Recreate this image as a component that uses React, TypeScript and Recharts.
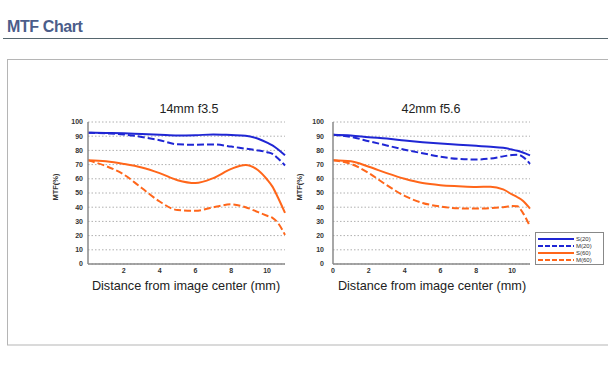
import React from "react";
import { LineChart, Line, XAxis, YAxis, CartesianGrid } from "recharts";

// distance from image centre (mm)
const xs = [0, 1, 2, 3, 4, 5, 6, 7, 8, 8.8, 9.5, 10, 10.3, 10.6, 11];

const seriesNames = ["S(20)", "M(20)", "S(60)", "M(60)"];

// 14mm f3.5
const wideS20 = [92.5, 92.3, 92, 91.5, 91, 90.5, 90.7, 91.2, 90.8, 90.4, 88.2, 85.5, 83.5, 80.8, 76.5];
const wideM20 = [92.5, 92, 91.2, 89.5, 87.2, 84.3, 84, 84.2, 82.7, 81.2, 80, 78.7, 77.5, 74.5, 69.4];
const wideS60 = [73, 72.3, 70.5, 68, 64, 59, 57, 60.5, 67, 69.8, 66, 59.5, 54.5, 47, 36];
const wideM60 = [73, 69, 63, 53.5, 44, 38, 37.5, 40, 42, 40, 36.5, 34, 32.5, 29, 20.5];

// 42mm f5.6
const teleS20 = [91, 90.5, 89.3, 88.3, 87, 85.8, 84.8, 84, 83.2, 82.6, 81.8, 80.6, 79.7, 78.5, 76.5];
const teleM20 = [91, 89.5, 86.5, 83.5, 80.5, 78, 75.5, 74, 73.6, 74.3, 75.8, 76.8, 77, 75.5, 70.5];
const teleS60 = [73, 72.3, 68.5, 64, 60, 57, 55.5, 54.8, 54.3, 54.4, 52.5, 49, 47, 44.5, 39];
const teleM60 = [73, 70.5, 64, 55.5, 48, 43, 40.5, 39.2, 39, 39.3, 40, 40.8, 40.6, 36, 26.5];

const chartTitles = ["14mm f3.5", "42mm f5.6"];
const xTicksWide = [2, 4, 6, 8, 10];
const xTicksTele = [0, 2, 4, 6, 8, 10];
const yTicks = [0, 10, 20, 30, 40, 50, 60, 70, 80, 90, 100];
const xAxisTitle = "Distance from image center (mm)";
const yAxisTitle = "MTF(%)";
const pageTitle = "MTF Chart";

const BLUE = "#1f26d4";
const ORANGE = "#ff661a";
const FONT = "'Liberation Sans', Arial, sans-serif";

const seriesStyle = [
  { key: "s20", color: BLUE, dash: undefined },
  { key: "m20", color: BLUE, dash: "7 3" },
  { key: "s60", color: ORANGE, dash: undefined },
  { key: "m60", color: ORANGE, dash: "7 3" },
];

const build = (a: number[], b: number[], c: number[], d: number[]) =>
  xs.map((x, i) => ({ x, s20: a[i], m20: b[i], s60: c[i], m60: d[i] }));

const wideData = build(wideS20, wideM20, wideS60, wideM60);
const teleData = build(teleS20, teleM20, teleS60, teleM60);

const tickStyle = { fontSize: 7, fontWeight: 700, fill: "#333", fontFamily: FONT };

function Panel({ data, xTicks, yMargin }: { data: any[]; xTicks: number[]; yMargin: number }) {
  return (
    <LineChart width={260} height={205} data={data} margin={{ top: 27, right: 15, bottom: 16, left: 0 }}>
      <CartesianGrid vertical={false} stroke="#b0b0b0" strokeDasharray="1.5 2" />
      <XAxis
        dataKey="x"
        type="number"
        domain={[0, 11]}
        ticks={xTicks}
        interval={0}
        height={20}
        tickSize={0}
        tickMargin={4}
        axisLine={{ stroke: "#8a8a8a", strokeWidth: 1.5 }}
        tick={tickStyle}
      />
      <XAxis xAxisId="top" orientation="top" type="number" domain={[0, 11]} height={0} tick={false} tickLine={false} axisLine={{ stroke: "#8a8a8a", strokeWidth: 1.5 }} />
      <YAxis
        type="number"
        domain={[0, 100]}
        ticks={yTicks}
        interval={0}
        width={48}
        tickSize={0}
        tickMargin={yMargin}
        axisLine={{ stroke: "#8a8a8a", strokeWidth: 1.5 }}
        tick={tickStyle}
      />
      <YAxis yAxisId="r" orientation="right" type="number" domain={[0, 100]} width={0} tick={false} tickLine={false} axisLine={{ stroke: "#8a8a8a", strokeWidth: 1.5 }} />
      {seriesStyle.map((s) => (
        <Line
          key={s.key}
          dataKey={s.key}
          type="monotone"
          stroke={s.color}
          strokeWidth={2}
          strokeDasharray={s.dash}
          dot={false}
          activeDot={false}
          isAnimationActive={false}
        />
      ))}
    </LineChart>
  );
}

export default function App() {
  return (
    <div style={{ position: "fixed", left: 0, top: 0, width: 608, height: 366, background: "#fff", fontFamily: FONT, overflow: "hidden" }}>
      <svg width={608} height={366} style={{ position: "absolute", left: 0, top: 0 }}>
        <text x={7} y={32} fontSize={16} fontWeight={700} fill="#4b5d8a" letterSpacing={-0.4} fontFamily={FONT}>
          {pageTitle}
        </text>
        <line x1={3} x2={608} y1={38.5} y2={38.5} stroke="#56666e" strokeWidth={1.2} />
        <rect x={7.5} y={59.5} width={640} height={285.5} fill="none" stroke="#b5b5b5" strokeWidth={1} />
        <text x={189} y={113} textAnchor="middle" fontSize={12.5} fill="#222" fontFamily={FONT}>{chartTitles[0]}</text>
        <text x={431} y={113} textAnchor="middle" fontSize={12.5} fill="#222" fontFamily={FONT}>{chartTitles[1]}</text>
        <text x={186} y={290} textAnchor="middle" fontSize={12.7} fill="#222" fontFamily={FONT}>{xAxisTitle}</text>
        <text x={432} y={290} textAnchor="middle" fontSize={12.7} fill="#222" fontFamily={FONT}>{xAxisTitle}</text>
        <text x={55} y={187} textAnchor="middle" dominantBaseline="central" fontSize={7.5} fontWeight={700} fill="#333" fontFamily={FONT} transform="rotate(-90 55 187)">{yAxisTitle}</text>
        <text x={299} y={187} textAnchor="middle" dominantBaseline="central" fontSize={7.5} fontWeight={700} fill="#333" fontFamily={FONT} transform="rotate(-90 299 187)">{yAxisTitle}</text>
      </svg>
      <div style={{ position: "absolute", left: 40, top: 95 }}>
        <Panel data={wideData} xTicks={xTicksWide} yMargin={5} />
      </div>
      <div style={{ position: "absolute", left: 285, top: 95 }}>
        <Panel data={teleData} xTicks={xTicksTele} yMargin={9} />
      </div>
      <svg width={70} height={34} style={{ position: "absolute", left: 535, top: 232 }}>
        <rect x={0.5} y={0.5} width={68} height={32} fill="#fff" stroke="#888" strokeWidth={1} />
        {seriesStyle.map((s, i) => (
          <g key={s.key}>
            <line x1={3} x2={39} y1={7 + i * 7} y2={7 + i * 7} stroke={s.color} strokeWidth={2} strokeDasharray={s.dash ? "5 2" : undefined} />
            <text x={41} y={9 + i * 7} fontSize={6} fill="#333" fontFamily={FONT}>{seriesNames[i]}</text>
          </g>
        ))}
      </svg>
    </div>
  );
}
